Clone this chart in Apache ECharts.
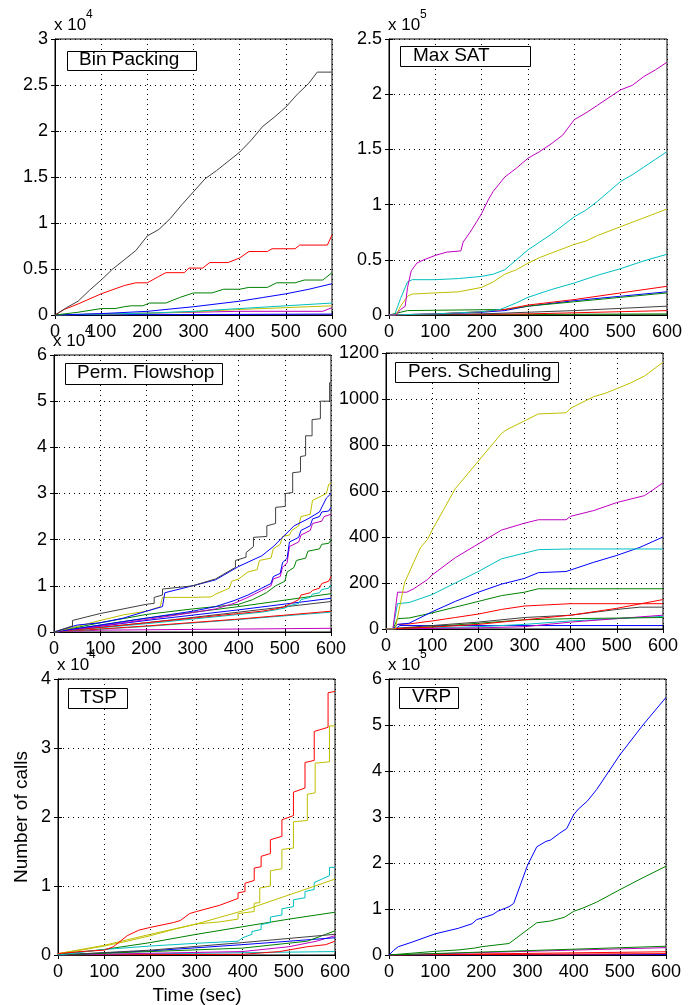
<!DOCTYPE html>
<html>
<head>
<meta charset="utf-8">
<script src="https://cdn.jsdelivr.net/npm/echarts@6/dist/echarts.min.js"></script>
<style>
  html, body { margin: 0; padding: 0; background: #fff; }
  #chart { width: 697px; height: 1005px; }
</style>
</head>
<body>
<div id="chart"></div>
<script>
// ── data: [time (sec), calls in axis units] ─────────────────────
const xTicks = [0, 100, 200, 300, 400, 500, 600];

// Bin Packing (x 10^4)
const bpBlack = [[0,0],[25,0.08],[50,0.15],[75,0.27],[100,0.38],[125,0.5],[150,0.6],[175,0.7],[200,0.86],[225,0.93],[250,1.05],[275,1.2],[300,1.34],[325,1.48],[350,1.57],[375,1.67],[400,1.77],[425,1.9],[450,2.05],[475,2.15],[500,2.26],[525,2.4],[550,2.52],[568,2.64],[600,2.64]];
const bpRed = [[0,0],[20,0.06],[50,0.12],[100,0.23],[150,0.32],[175,0.35],[200,0.35],[225,0.42],[240,0.46],[280,0.46],[290,0.51],[320,0.51],[335,0.57],[375,0.57],[400,0.62],[420,0.69],[460,0.69],[470,0.72],[520,0.72],[530,0.76],[590,0.76],[600,0.87]];
const bpGreen = [[0,0],[50,0.03],[100,0.07],[130,0.07],[150,0.09],[165,0.1],[190,0.1],[205,0.13],[240,0.13],[270,0.19],[300,0.24],[340,0.24],[365,0.28],[400,0.28],[420,0.3],[460,0.3],[480,0.35],[520,0.35],[540,0.38],[580,0.38],[600,0.46]];
const bpBlue = [[0,0],[100,0.015],[200,0.04],[300,0.09],[400,0.15],[450,0.19],[500,0.23],[550,0.28],[600,0.34]];
const bpCyan = [[0,0],[200,0.02],[300,0.04],[400,0.07],[500,0.1],[600,0.13]];
const bpYellow = [[0,0],[200,0.02],[300,0.035],[400,0.06],[500,0.08],[600,0.1]];
const bpMagenta = [[0,0],[200,0.02],[300,0.03],[400,0.04],[580,0.04],[600,0.08]];
const bpBlue2 = [[0,0],[600,0.01]];

// Max SAT (x 10^5)
const msMagenta = [[0,0],[15,0],[25,0.05],[35,0.08],[40,0.25],[48,0.4],[60,0.47],[75,0.5],[100,0.54],[125,0.57],[155,0.58],[160,0.66],[175,0.75],[190,0.85],[200,0.92],[215,1.05],[225,1.12],[250,1.25],[275,1.33],[300,1.42],[325,1.48],[350,1.55],[375,1.63],[400,1.77],[425,1.83],[450,1.9],[475,1.97],[500,2.04],[525,2.08],[550,2.16],[575,2.22],[600,2.29]];
const msCyan = [[0,0],[12,0],[25,0.15],[40,0.3],[50,0.32],[100,0.32],[150,0.33],[200,0.35],[225,0.37],[250,0.41],[275,0.5],[300,0.59],[325,0.66],[350,0.73],[375,0.81],[400,0.89],[425,0.95],[450,1.03],[475,1.12],[500,1.21],[525,1.27],[550,1.34],[575,1.41],[600,1.48]];
const msYellow = [[0,0],[15,0],[25,0.08],[40,0.17],[50,0.19],[100,0.2],[150,0.21],[200,0.25],[225,0.3],[250,0.37],[275,0.41],[300,0.47],[325,0.52],[350,0.56],[375,0.6],[400,0.64],[425,0.67],[450,0.72],[475,0.76],[500,0.8],[525,0.84],[550,0.88],[575,0.92],[600,0.96]];
const msCyan2 = [[0,0],[100,0.01],[200,0.03],[240,0.05],[275,0.11],[300,0.16],[350,0.23],[400,0.29],[450,0.36],[500,0.42],[550,0.49],[600,0.55]];
const msRed = [[0,0],[100,0.01],[200,0.03],[250,0.05],[300,0.09],[400,0.14],[500,0.2],[600,0.26]];
const msBlue = [[0,0],[100,0.01],[200,0.025],[250,0.04],[300,0.08],[400,0.13],[500,0.17],[600,0.21]];
const msGreen = [[0,0],[40,0.04],[250,0.05],[300,0.08],[400,0.12],[500,0.16],[600,0.2]];
const msBlack = [[0,0],[200,0.01],[400,0.04],[600,0.08]];
const msRed2 = [[0,0],[300,0.01],[600,0.04]];
const msGreen2 = [[0,0],[600,0.01]];

// Perm. Flowshop (x 10^4)
const pfBlack = [[0,0],[40,0.13],[40,0.25],[100,0.4],[200,0.6],[217,0.62],[217,0.75],[235,0.8],[235,0.93],[300,1.0],[350,1.15],[393,1.4],[393,1.55],[416,1.62],[416,1.72],[432,1.85],[432,2.05],[461,2.07],[461,2.3],[480,2.35],[480,2.7],[501,2.72],[501,3.0],[517,3.02],[517,3.45],[534,3.47],[534,3.8],[545,3.82],[545,4.25],[559,4.25],[559,4.6],[577,4.62],[577,5.0],[597,5.0],[597,5.4],[600,5.4]];
const pfBlue = [[0,0],[50,0.15],[100,0.2],[150,0.3],[200,0.45],[235,0.55],[240,0.85],[300,1.0],[350,1.13],[400,1.42],[450,1.65],[475,1.85],[500,2.1],[520,2.3],[550,2.45],[575,2.6],[590,2.9],[600,3.0]];
const pfYellow = [[0,0],[50,0.12],[100,0.25],[150,0.37],[200,0.45],[230,0.55],[235,0.75],[300,0.75],[340,0.76],[350,0.82],[380,0.95],[385,1.1],[400,1.15],[420,1.3],[440,1.35],[445,1.55],[470,1.6],[475,1.8],[490,1.9],[495,2.07],[510,2.1],[515,2.2],[530,2.3],[535,2.5],[555,2.55],[560,2.85],[580,2.95],[590,3.0],[595,3.2],[600,3.22]];
const pfBlue2 = [[0,0],[100,0.15],[200,0.3],[300,0.45],[350,0.55],[390,0.68],[420,0.8],[450,0.95],[470,1.05],[475,1.2],[490,1.27],[495,1.5],[505,1.6],[510,1.95],[530,2.05],[535,2.2],[555,2.3],[560,2.45],[575,2.5],[580,2.6],[595,2.62],[600,2.7]];
const pfMagenta = [[0,0],[100,0.13],[200,0.27],[300,0.42],[350,0.5],[390,0.62],[420,0.75],[450,0.9],[470,1.0],[475,1.15],[490,1.2],[495,1.4],[505,1.5],[510,1.85],[530,1.95],[535,2.1],[555,2.2],[560,2.35],[580,2.4],[585,2.5],[600,2.55]];
const pfGreen = [[0,0],[100,0.2],[200,0.38],[300,0.5],[400,0.6],[430,0.7],[460,0.85],[480,1.0],[500,1.1],[505,1.3],[520,1.4],[525,1.55],[545,1.6],[550,1.75],[575,1.8],[580,1.9],[595,1.92],[600,2.0]];
const pfRed = [[0,0],[100,0.1],[200,0.2],[300,0.3],[400,0.4],[450,0.45],[480,0.5],[500,0.55],[510,0.6],[520,0.65],[530,0.7],[535,0.8],[555,0.85],[560,0.9],[575,0.95],[580,1.05],[595,1.1],[600,1.2]];
const pfCyan = [[0,0],[100,0.09],[200,0.18],[300,0.28],[400,0.38],[450,0.43],[480,0.48],[500,0.52],[510,0.57],[530,0.62],[535,0.7],[555,0.75],[560,0.82],[575,0.85],[580,0.92],[595,0.95],[600,1.02]];
const pfGreen2 = [[0,0],[200,0.3],[400,0.55],[600,0.83]];
const pfBlue3 = [[0,0],[200,0.25],[400,0.48],[600,0.73]];
const pfBlack2 = [[0,0],[200,0.2],[400,0.43],[600,0.66]];
const pfRed2 = [[0,0],[200,0.13],[400,0.28],[600,0.45]];
const pfCyan2 = [[0,0],[200,0.12],[400,0.27],[600,0.43]];
const pfMagenta2 = [[0,0],[100,0.04],[600,0.08]];

// Pers. Scheduling
const psYellow = [[0,0],[20,0],[40,200],[60,290],[75,355],[90,390],[100,430],[125,520],[150,610],[175,670],[200,730],[225,790],[250,850],[260,865],[300,905],[330,935],[390,940],[400,960],[450,1010],[475,1025],[500,1045],[530,1070],[560,1100],[600,1160]];
const psMagenta = [[0,0],[15,0],[25,160],[45,160],[60,175],[90,215],[100,235],[150,310],[200,370],[250,430],[300,460],[330,475],[390,475],[400,490],[450,515],[500,550],[560,580],[600,635]];
const psCyan = [[0,0],[15,0],[25,110],[50,115],[100,150],[150,200],[200,250],[250,305],[300,330],[330,345],[400,348],[600,348]];
const psBlue = [[0,0],[15,0],[25,20],[50,25],[100,75],[150,120],[200,160],[250,195],[300,220],[330,245],[390,250],[450,290],[500,320],[550,355],[600,400]];
const psGreen = [[0,0],[15,0],[25,45],[50,48],[100,70],[150,95],[200,120],[250,145],[300,160],[330,175],[600,175]];
const psRed = [[0,0],[15,0],[25,20],[50,22],[100,35],[150,50],[200,65],[250,85],[300,100],[400,110],[600,110]];
const psRed2 = [[0,0],[100,8],[200,20],[300,40],[400,60],[500,90],[600,128]];
const psBlack = [[0,0],[100,15],[200,30],[300,50],[400,60],[500,85],[550,95],[600,95]];
const psGreen2 = [[0,0],[100,10],[200,25],[300,40],[400,45],[600,50]];
const psMagenta2 = [[0,0],[200,5],[300,10],[400,30],[500,45],[600,60]];
const psCyan2 = [[0,0],[100,5],[200,10],[300,20],[400,35],[600,55]];
const psBlue2 = [[0,0],[20,0],[30,15],[600,15]];

// TSP
const tspRed = [[0,0.02],[50,0.05],[100,0.07],[120,0.12],[150,0.28],[175,0.36],[200,0.4],[250,0.47],[265,0.5],[285,0.6],[300,0.63],[350,0.72],[390,0.82],[390,0.9],[405,0.92],[405,1.04],[425,1.08],[425,1.26],[440,1.28],[440,1.43],[460,1.47],[460,1.67],[485,1.72],[485,1.96],[510,2.02],[510,2.36],[535,2.42],[535,2.79],[555,2.82],[555,3.24],[585,3.3],[585,3.8],[600,3.82]];
const tspYellow = [[0,0.02],[50,0.07],[100,0.13],[150,0.2],[200,0.28],[250,0.37],[300,0.45],[350,0.48],[390,0.52],[390,0.6],[425,0.63],[425,0.75],[437,0.76],[437,0.97],[460,1.0],[460,1.22],[485,1.25],[485,1.53],[510,1.55],[510,1.93],[540,1.95],[540,2.33],[557,2.35],[557,2.78],[588,2.8],[588,3.32],[600,3.32]];
const tspYellow2 = [[0,0.02],[100,0.14],[200,0.3],[300,0.45],[400,0.64],[500,0.87],[600,1.1]];
const tspCyan = [[0,0],[100,0.08],[200,0.13],[300,0.17],[390,0.2],[400,0.25],[420,0.3],[420,0.34],[440,0.37],[440,0.44],[460,0.47],[460,0.55],[485,0.58],[485,0.67],[510,0.7],[510,0.8],[535,0.83],[535,0.92],[555,0.95],[555,1.05],[588,1.15],[588,1.27],[600,1.27]];
const tspGreen = [[0,0.01],[100,0.08],[200,0.18],[300,0.3],[400,0.41],[500,0.52],[600,0.62]];
const tspBlack = [[0,0],[200,0.07],[400,0.18],[600,0.3]];
const tspGreen2 = [[0,0],[400,0.1],[540,0.2],[580,0.3],[600,0.35]];
const tspBlue = [[0,0],[200,0.06],[400,0.15],[600,0.25]];
const tspMagenta = [[0,0],[400,0.05],[500,0.12],[560,0.2],[600,0.28]];
const tspRed2 = [[0,0],[400,0.01],[480,0.05],[540,0.12],[580,0.15],[600,0.2]];
const tspCyan2 = [[0,0],[600,0.05]];

// VRP (x 10^5)
const vrpBlue = [[0,0],[10,0.1],[20,0.18],[50,0.28],[100,0.46],[150,0.58],[180,0.68],[190,0.77],[200,0.8],[225,0.88],[235,0.95],[260,1.05],[270,1.12],[300,1.95],[320,2.35],[340,2.47],[350,2.5],[370,2.65],[385,2.75],[400,3.05],[410,3.17],[430,3.35],[450,3.6],[500,4.35],[550,5.0],[600,5.6]];
const vrpGreen = [[0,0],[50,0.04],[100,0.08],[150,0.11],[185,0.15],[200,0.18],[260,0.25],[300,0.55],[320,0.7],[350,0.74],[380,0.82],[400,0.95],[420,1.02],[450,1.15],[500,1.42],[550,1.68],[600,1.93]];
const vrpGreen2 = [[0,0],[600,0.19]];
const vrpMagenta = [[0,0],[600,0.16]];
const vrpRed = [[0,0],[600,0.07]];
const vrpRed2 = [[0,0],[600,0.03]];
const vrpBlue2 = [[0,0],[600,0.01]];

// ── MATLAB colour letters ───────────────────────────────────────
const C = {
  b: "#0000ff", g: "#008000", r: "#ff0000", c: "#00bfbf",
  m: "#bf00bf", y: "#bfbf00", k: "#404040",
};

const panels = [
  { name: "Bin Packing", yMax: 3, yStep: 0.5, exp: "4",
    lines: [[bpBlue2,"b"],[bpMagenta,"m"],[bpYellow,"y"],[bpCyan,"c"],[bpBlue,"b"],[bpGreen,"g"],[bpRed,"r"],[bpBlack,"k"]] },
  { name: "Max SAT", yMax: 2.5, yStep: 0.5, exp: "5",
    lines: [[msGreen2,"g"],[msRed2,"r"],[msBlack,"k"],[msBlue,"b"],[msGreen,"g"],[msRed,"r"],[msCyan2,"c"],[msYellow,"y"],[msCyan,"c"],[msMagenta,"m"]] },
  { name: "Perm. Flowshop", yMax: 6, yStep: 1, exp: "4",
    lines: [[pfMagenta2,"m"],[pfCyan2,"c"],[pfRed2,"r"],[pfBlack2,"k"],[pfBlue3,"b"],[pfGreen2,"g"],[pfCyan,"c"],[pfRed,"r"],[pfGreen,"g"],[pfMagenta,"m"],[pfBlue2,"b"],[pfYellow,"y"],[pfBlue,"b"],[pfBlack,"k"]] },
  { name: "Pers. Scheduling", yMax: 1200, yStep: 200, exp: null,
    lines: [[psBlue2,"b"],[psCyan2,"c"],[psMagenta2,"m"],[psGreen2,"g"],[psBlack,"k"],[psRed2,"r"],[psRed,"r"],[psGreen,"g"],[psBlue,"b"],[psCyan,"c"],[psMagenta,"m"],[psYellow,"y"]] },
  { name: "TSP", yMax: 4, yStep: 1, exp: "4",
    lines: [[tspCyan2,"c"],[tspRed2,"r"],[tspMagenta,"m"],[tspBlue,"b"],[tspGreen2,"g"],[tspBlack,"k"],[tspGreen,"g"],[tspCyan,"c"],[tspYellow2,"y"],[tspYellow,"y"],[tspRed,"r"]] },
  { name: "VRP", yMax: 6, yStep: 1, exp: "5",
    lines: [[vrpBlue2,"b"],[vrpRed2,"r"],[vrpRed,"r"],[vrpMagenta,"m"],[vrpGreen2,"g"],[vrpGreen,"g"],[vrpBlue,"b"]] },
];

// ── layout (pixels) ─────────────────────────────────────────────
const boxes = [
  { left: 55, top: 39, width: 277, height: 276 },
  { left: 389, top: 39, width: 278, height: 276 },
  { left: 54, top: 355, width: 277, height: 277 },
  { left: 386, top: 353, width: 277, height: 276 },
  { left: 58, top: 679, width: 277, height: 276 },
  { left: 389, top: 679, width: 277, height: 276 },
];
// legend-like title frames: [x, y, w, h, textX]
const titleBoxes = [
  [67, 51, 129, 19, 79],
  [400, 46, 130, 20, 413],
  [65, 363, 157, 21, 77],
  [395, 362, 163, 20, 408],
  [68, 688, 59, 20, 80],
  [399, 687, 59, 21, 412],
];

const FONT = "'Liberation Sans', Arial, Helvetica, sans-serif";
const chart = echarts.init(document.getElementById("chart"), null, { renderer: "canvas" });

const grid = [], xAxis = [], yAxis = [], series = [], graphic = [];
const plain = v => String(v);
const tick = { show: true, inside: true, length: 4, lineStyle: { color: "#000" } };
const dotted = { show: true, lineStyle: { color: "#000", width: 1, type: [1, 4] } };
const line = { show: true, lineStyle: { color: "#000", width: 1 } };

panels.forEach((p, i) => {
  const b = boxes[i];
  grid.push({ ...b, show: true, borderColor: "#000", borderWidth: 1, backgroundColor: "#fff" });

  const xr = { type: "value", gridIndex: i, min: xTicks[0], max: xTicks[xTicks.length - 1], interval: 100 };
  const yr = { type: "value", gridIndex: i, min: 0, max: p.yMax, interval: p.yStep };

  xAxis.push({
    ...xr, position: "bottom", axisLine: line, axisTick: tick,
    axisLabel: { color: "#000", fontSize: 18, fontFamily: FONT, margin: 8, formatter: plain },
    splitLine: dotted,
  });
  yAxis.push({
    ...yr, position: "left", axisLine: line, axisTick: tick,
    axisLabel: { color: "#000", fontSize: 18, fontFamily: FONT, margin: 7, formatter: plain },
    splitLine: dotted,
  });

  p.lines.forEach(([data, col]) => {
    series.push({
      type: "line", xAxisIndex: i, yAxisIndex: i, data,
      symbol: "none", silent: true,
      lineStyle: { color: C[col], width: 1 },
    });
  });

  // exponent label above the y axis
  if (p.exp) {
    graphic.push({
      type: "text", left: b.left - 1, top: b.top - 22,
      style: { text: "x 10", font: `17px ${FONT}`, fill: "#000" }, z: 100,
    });
    graphic.push({
      type: "text", left: b.left + 31, top: b.top - 30,
      style: { text: p.exp, font: `12px ${FONT}`, fill: "#000" }, z: 100,
    });
  }

  // title frame
  const [tx, ty, tw, th, textX] = titleBoxes[i];
  graphic.push({
    type: "rect", left: tx, top: ty, z: 100,
    shape: { width: tw, height: th },
    style: { fill: "#fff", stroke: "#000", lineWidth: 1 },
  });
  graphic.push({
    type: "text", left: textX, top: ty + th / 2 - 10, z: 101,
    style: { text: p.name, font: `19px ${FONT}`, fill: "#000" },
  });
});

// mirrored ticks on top and right edges (MATLAB box)
panels.forEach((p, i) => {
  xAxis.push({
    type: "value", gridIndex: i, min: 0, max: 600, interval: 100, position: "top",
    axisLine: { show: false }, axisTick: tick, axisLabel: { show: false }, splitLine: { show: false },
  });
  yAxis.push({
    type: "value", gridIndex: i, min: 0, max: p.yMax, interval: p.yStep, position: "right",
    axisLine: { show: false }, axisTick: tick, axisLabel: { show: false }, splitLine: { show: false },
  });
});

// axis titles
graphic.push({
  type: "text", x: 22, y: 817, rotation: Math.PI / 2, z: 100,
  style: { text: "Number of calls", font: `19px ${FONT}`, fill: "#000",
    align: "center", verticalAlign: "middle", textAlign: "center", textVerticalAlign: "middle" },
});
graphic.push({
  type: "text", x: 197, y: 996, z: 100,
  style: { text: "Time (sec)", font: `19px ${FONT}`, fill: "#000",
    align: "center", verticalAlign: "middle", textAlign: "center", textVerticalAlign: "middle" },
});

chart.setOption({
  animation: false,
  backgroundColor: "#fff",
  grid, xAxis, yAxis, series, graphic,
});
</script>
</body>
</html>
